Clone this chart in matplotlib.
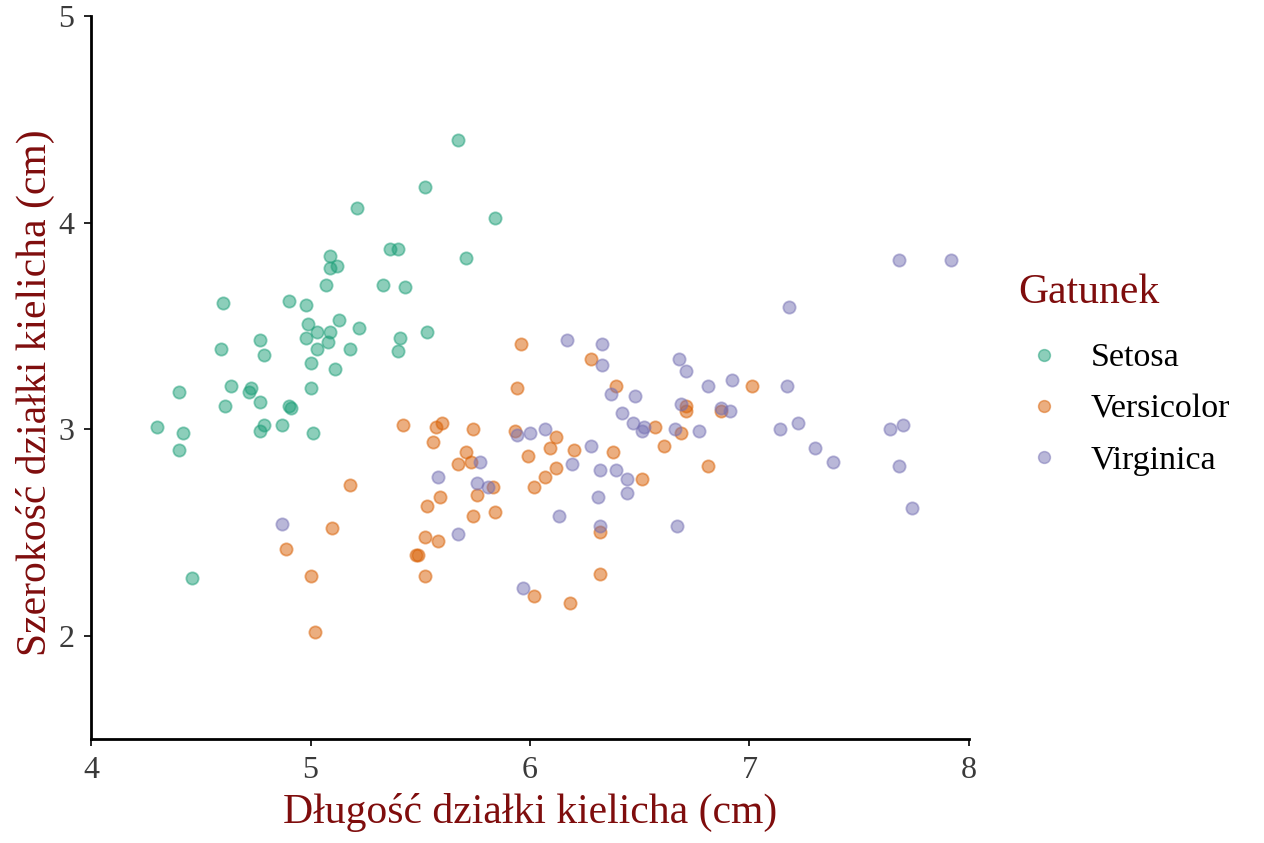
import matplotlib
matplotlib.use("Agg")
import matplotlib.pyplot as plt
from matplotlib.lines import Line2D

plt.rcParams['font.family'] = ['Liberation Serif', 'DejaVu Serif']

# values (jittered iris sepal data)
setosa_x = [5.67, 5.84, 5.71, 5.21, 5.36, 5.40, 5.09, 5.09, 5.12, 5.07,
            5.33, 5.43, 4.60, 4.90, 4.98, 4.99, 5.13, 5.03, 5.09, 5.22,
            4.98, 5.08, 5.41, 5.40, 4.59, 4.77, 4.79, 5.03, 5.18, 5.00,
            5.11, 5.52, 5.53, 4.40, 4.64, 4.73, 4.72, 4.61, 4.77, 5.00,
            4.90, 4.91, 4.30, 4.42, 4.40, 4.79, 4.77, 4.87, 5.01, 4.46]
setosa_y = [4.40, 4.02, 3.83, 4.07, 3.87, 3.87, 3.84, 3.78, 3.79, 3.70,
            3.70, 3.69, 3.61, 3.62, 3.60, 3.51, 3.53, 3.47, 3.47, 3.49,
            3.44, 3.42, 3.44, 3.38, 3.39, 3.43, 3.36, 3.39, 3.39, 3.32,
            3.29, 4.17, 3.47, 3.18, 3.21, 3.20, 3.18, 3.11, 3.13, 3.20,
            3.11, 3.10, 3.01, 2.98, 2.90, 3.02, 2.99, 3.02, 2.98, 2.28]

versicolor_x = [5.96, 6.28, 6.39, 5.94, 5.42, 5.57, 5.60, 5.74, 5.56, 5.93,
                6.12, 6.09, 6.20, 5.71, 5.67, 5.73, 5.99, 6.38, 6.12, 6.07,
                6.51, 6.57, 6.61, 6.02, 5.83, 5.59, 5.76, 5.53, 5.74, 5.84,
                5.52, 5.58, 5.48, 5.49, 5.52, 6.32, 6.32, 6.02, 6.18, 5.00,
                5.02, 4.89, 5.10, 5.18, 7.01, 6.71, 6.71, 6.87, 6.69, 6.81]
versicolor_y = [3.41, 3.34, 3.21, 3.20, 3.02, 3.01, 3.03, 3.00, 2.94, 2.99,
                2.96, 2.91, 2.90, 2.89, 2.83, 2.84, 2.87, 2.89, 2.81, 2.77,
                2.76, 3.01, 2.92, 2.72, 2.72, 2.67, 2.68, 2.63, 2.58, 2.60,
                2.48, 2.46, 2.39, 2.39, 2.29, 2.50, 2.30, 2.19, 2.16, 2.29,
                2.02, 2.42, 2.52, 2.73, 3.21, 3.11, 3.09, 3.09, 2.98, 2.82]

virginica_x = [6.17, 6.33, 6.33, 6.37, 6.48, 6.42, 6.47, 6.52, 6.51, 6.66,
               5.94, 6.00, 6.07, 6.28, 6.19, 6.32, 6.39, 6.44, 5.77, 5.58,
               5.76, 5.81, 6.31, 6.44, 6.13, 5.67, 6.32, 5.97, 6.67, 4.87,
               7.18, 6.68, 6.71, 6.81, 6.92, 7.17, 6.69, 6.87, 6.91, 6.77,
               7.14, 7.22, 7.30, 7.38, 7.64, 7.70, 7.68, 7.74, 7.68, 7.92]
virginica_y = [3.43, 3.41, 3.31, 3.17, 3.16, 3.08, 3.03, 3.01, 2.99, 3.00,
               2.97, 2.98, 3.00, 2.92, 2.83, 2.80, 2.80, 2.76, 2.84, 2.77,
               2.74, 2.72, 2.67, 2.69, 2.58, 2.49, 2.53, 2.23, 2.53, 2.54,
               3.59, 3.34, 3.28, 3.21, 3.24, 3.21, 3.12, 3.10, 3.09, 2.99,
               3.00, 3.03, 2.91, 2.84, 3.00, 3.02, 2.82, 2.62, 3.82, 3.82]

species = ["Setosa", "Versicolor", "Virginica"]
colors = ["#1B9E77", "#D95F02", "#7570B3"]
title_col = "#7F0D0D"

fig = plt.figure(figsize=(12.64, 8.43), dpi=100)
ax = fig.add_axes([0.072, 0.1234, 0.6946, 0.8576])

series = [(setosa_x, setosa_y), (versicolor_x, versicolor_y), (virginica_x, virginica_y)]
for (xs, ys), col, name in zip(series, colors, species):
    ax.scatter(xs, ys, s=78, color=col, alpha=0.5, linewidths=1.3,
               edgecolors=col, label=name, zorder=3)

ax.set_xlim(4, 8)
ax.set_ylim(1.5, 5)
ax.set_xticks([4, 5, 6, 7, 8])
ax.set_yticks([2, 3, 4, 5])
for side in ["top", "right"]:
    ax.spines[side].set_visible(False)
for side in ["left", "bottom"]:
    ax.spines[side].set_linewidth(2.0)
ax.tick_params(axis="both", length=5, width=1.2, labelsize=23,
               labelcolor="#3A3A3A", pad=7)

ax.set_xlabel("Długość działki kielicha (cm)", fontsize=30, color=title_col, labelpad=6)
ax.set_ylabel("Szerokość działki kielicha (cm)", fontsize=30, color=title_col)
ax.yaxis.set_label_coords(-0.041, 0.479)

handles = [Line2D([], [], marker="o", linestyle="", markersize=8.5, color=c,
                  alpha=0.5, markeredgewidth=1.1, markeredgecolor=c) for c in colors]
leg = fig.legend(handles, species, title="Gatunek", loc="upper left",
                 bbox_to_anchor=(0.7925, 0.6957), frameon=False, fontsize=24.5,
                 title_fontsize=30, labelspacing=0.6, handletextpad=0.65,
                 borderpad=0, handlelength=1.47)
leg.get_title().set_color(title_col)
leg._legend_box.align = "left"
leg._legend_box.sep = 22

fig.savefig("out.png", dpi=100)
